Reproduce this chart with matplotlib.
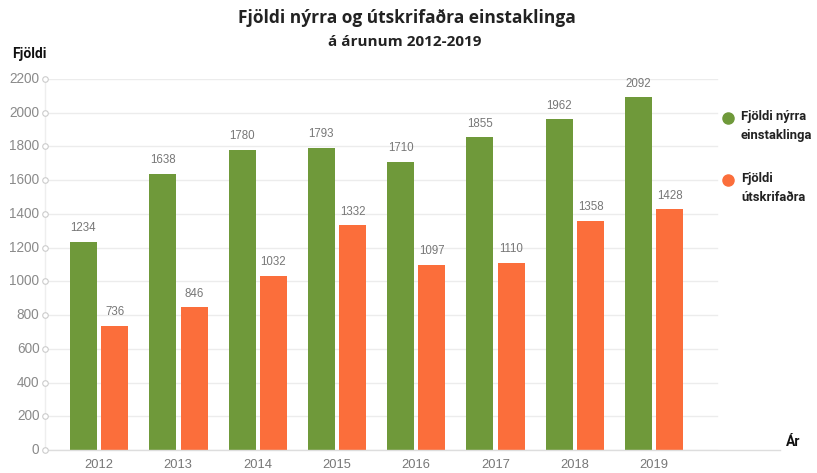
import matplotlib
matplotlib.use("Agg")
import matplotlib.pyplot as plt
import numpy as np

years = ["2012", "2013", "2014", "2015", "2016", "2017", "2018", "2019"]
new_people = [1234, 1638, 1780, 1793, 1710, 1855, 1962, 2092]
graduated = [736, 846, 1032, 1332, 1097, 1110, 1358, 1428]
yticks = [0, 200, 400, 600, 800, 1000, 1200, 1400, 1600, 1800, 2000, 2200]
series_names = ["Fjöldi nýrra\neinstaklinga", "Fjöldi\nútskrifaðra"]

GREEN = "#6f993a"
ORANGE = "#fb6e3b"

W, H = 817, 473
fig = plt.figure(figsize=(W / 100, H / 100), dpi=100)
ax = fig.add_axes([45 / W, 1 - 450 / H, (780 - 45) / W, (450 - 79) / H])

x = np.arange(len(years))
bw = 0.34
ax.bar(x - 0.195, new_people, width=bw, color=GREEN, zorder=3)
ax.bar(x + 0.2, graduated, width=bw, color=ORANGE, zorder=3)

xmin = -0.68
ax.set_xlim(xmin, 8.59)
ax.set_ylim(0, 2200)

for s in ax.spines.values():
    s.set_visible(False)
ax.set_xticks([])
ax.set_yticks([])

# gridlines
for t in yticks:
    ax.plot([xmin, 7.8], [t, t], color="#ececec", lw=1.0, zorder=1)
# left axis line
ax.plot([xmin, xmin], [0, 2200], color="#eeeeee", lw=1.0, zorder=1, clip_on=False)
# baseline
ax.plot([xmin, 8.59], [0, 0], color="#dddddd", lw=1.0, zorder=4, clip_on=False)
# tick circles
ax.plot([xmin] * len(yticks), yticks, "o", ms=4, mfc="white", mec="#cccccc",
        mew=0.8, clip_on=False, zorder=5)

SANS = ["Liberation Sans", "DejaVu Sans"]
COND = ["Roboto", "DejaVu Sans"]
for t in yticks:
    ax.text(xmin - 0.07, t, str(t), ha="right", va="center", fontsize=9.8,
            color="#8a8a8a", family=SANS)

for i, yr in enumerate(years):
    ax.text(x[i], -55, yr, ha="center", va="top", fontsize=9.3, color="#777777",
            family=SANS)
    ax.text(x[i] - 0.195, new_people[i] + 45, str(new_people[i]), ha="center",
            va="bottom", fontsize=8.3, color="#777777", family=SANS)
    ax.text(x[i] + 0.2, graduated[i] + 45, str(graduated[i]), ha="center",
            va="bottom", fontsize=8.3, color="#777777", family=SANS)

# titles
fig.text(407 / W, 1 - 18 / H, "Fjöldi nýrra og útskrifaðra einstaklinga", ha="center",
         va="center", fontsize=12.5, fontweight="bold", color="#222222",
         family=["Open Sans", "DejaVu Sans"])
fig.text(405 / W, 1 - 42 / H, "á árunum 2012-2019", ha="center", va="center",
         fontsize=11, fontweight="bold", color="#222222", family=["Open Sans", "DejaVu Sans"])

fig.text(12 / W, 1 - 54 / H, "Fjöldi", ha="left", va="center", fontsize=10,
         fontweight="bold", color="#111111", family=COND)
fig.text(786 / W, 1 - 442 / H, "Ár", ha="left", va="center", fontsize=10,
         fontweight="bold", color="#111111", family=COND)

# legend
for (yc, name, col) in [(118, series_names[0], GREEN), (180, series_names[1], ORANGE)]:
    fig.lines.append(plt.Line2D([728 / W], [1 - yc / H], marker="o", ms=8, color=col,
                                transform=fig.transFigure, lw=0))
    fig.text(741 / W, 1 - (yc - 8) / H, name, ha="left", va="top", fontsize=9.4,
             fontweight="bold", color="#222222", linespacing=1.6,
             family=COND)

fig.savefig("out.png", dpi=100, facecolor="white")
